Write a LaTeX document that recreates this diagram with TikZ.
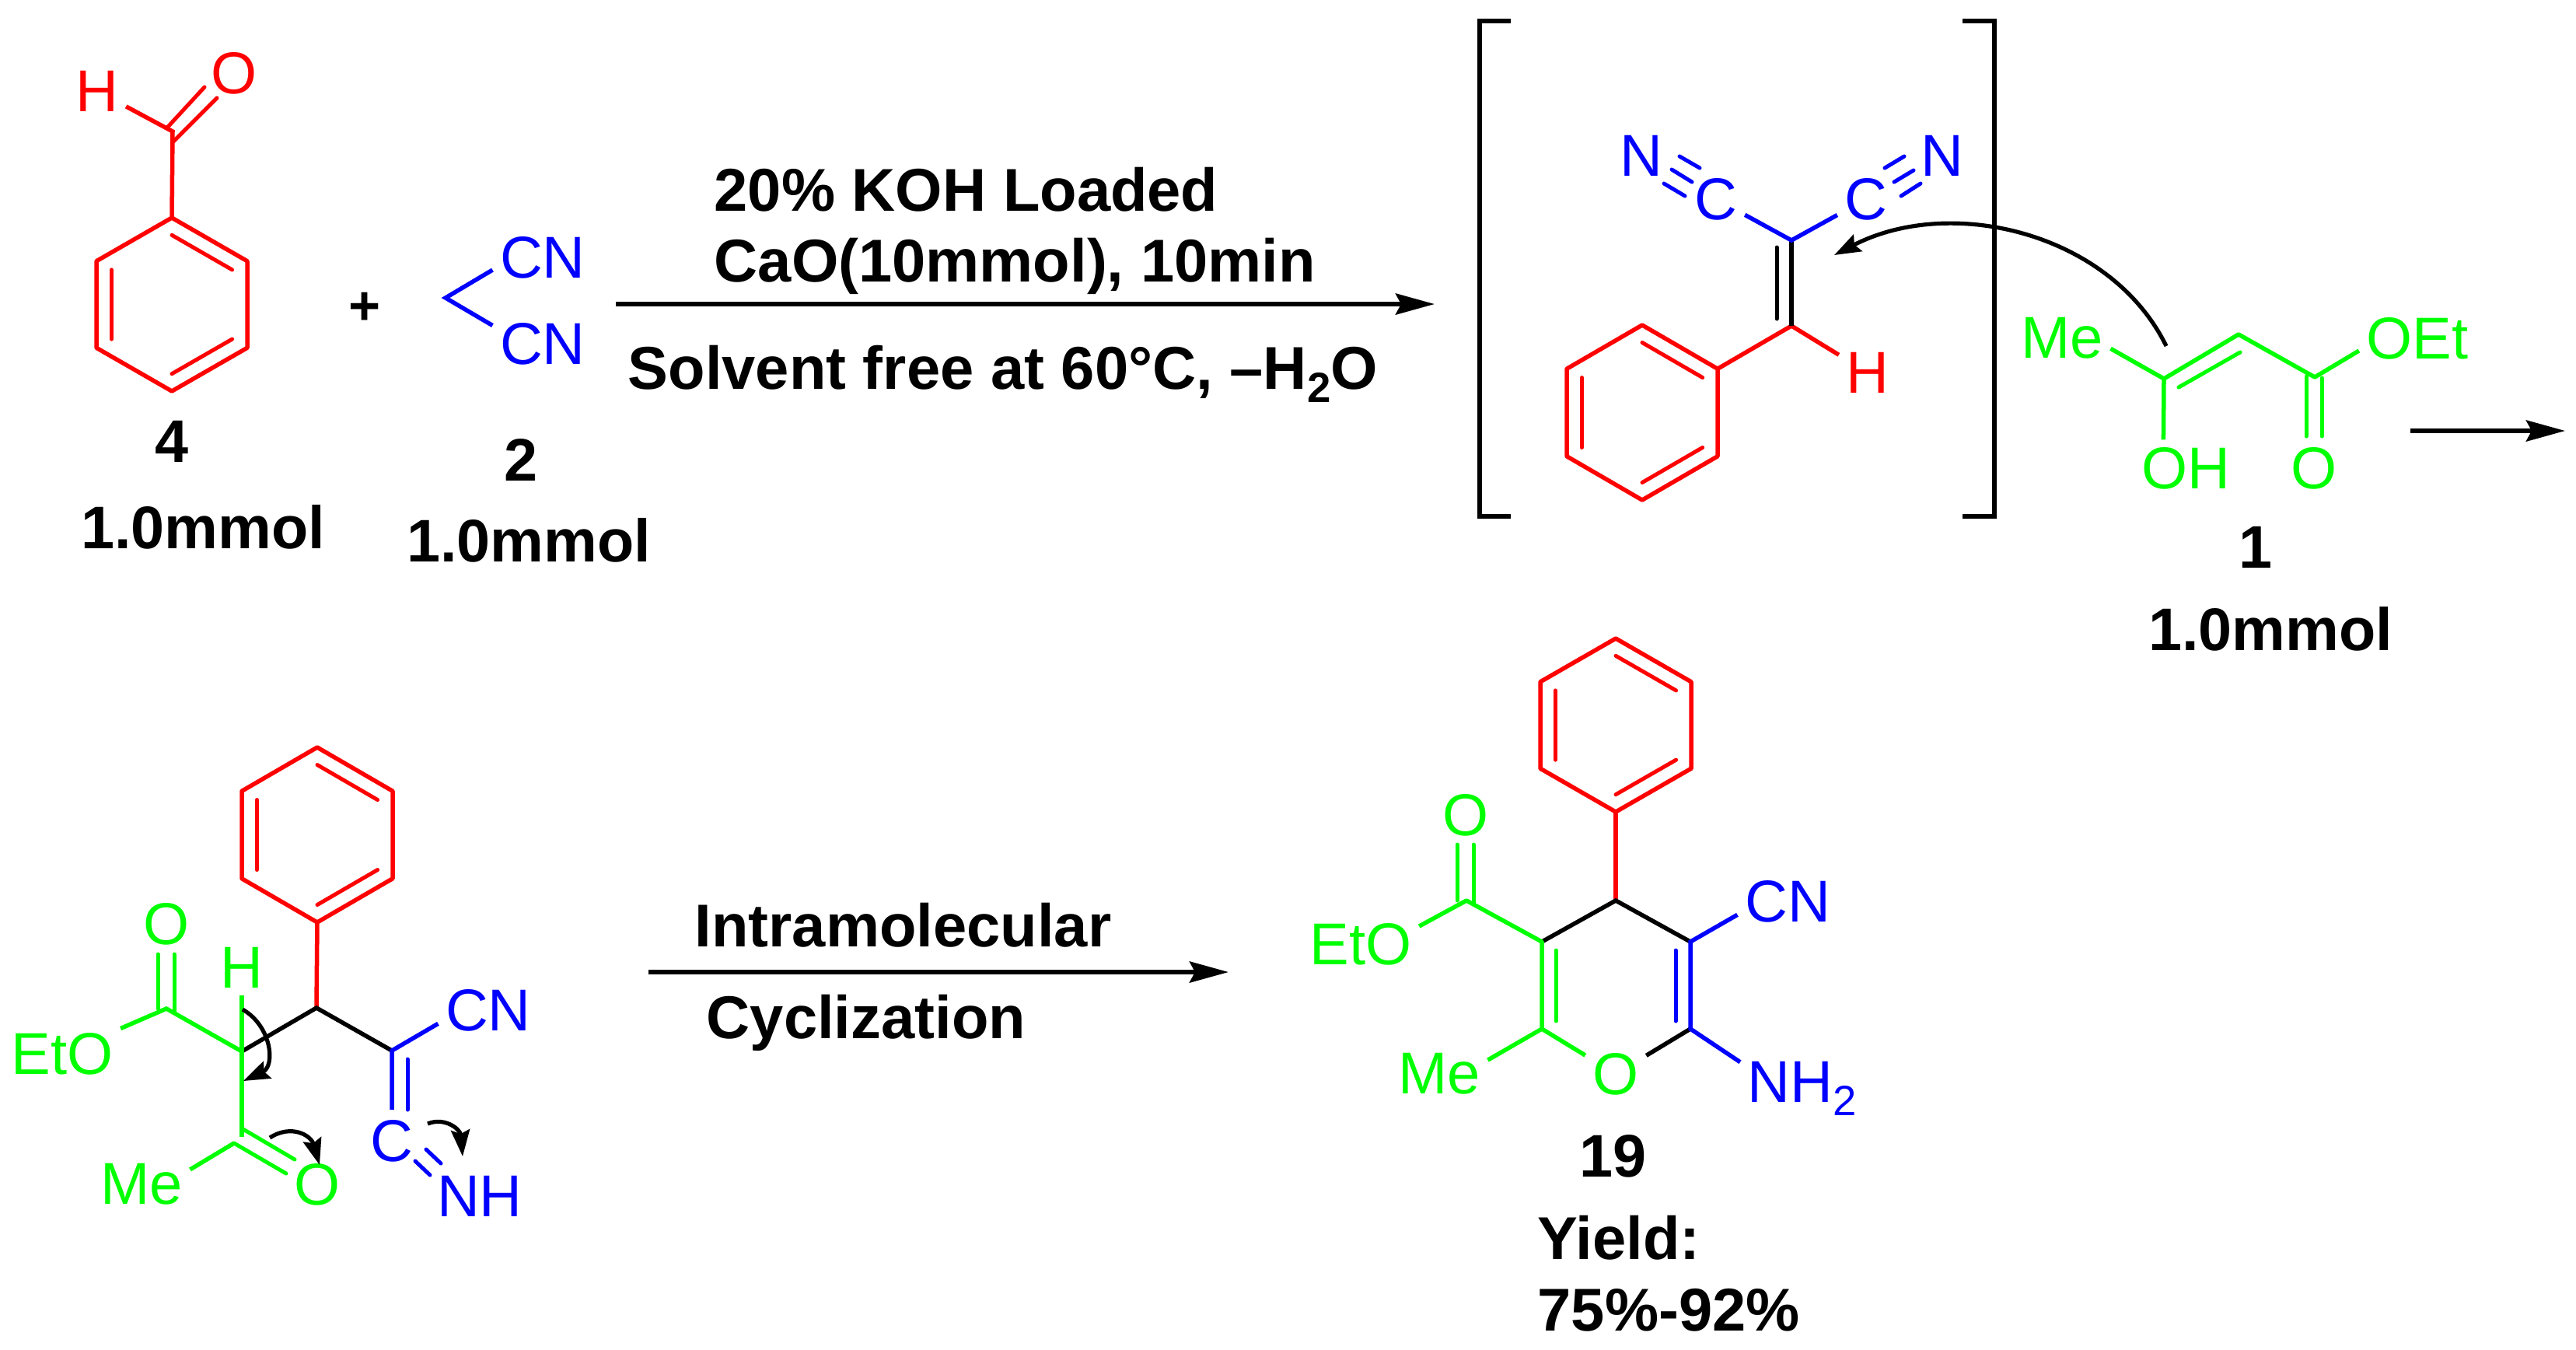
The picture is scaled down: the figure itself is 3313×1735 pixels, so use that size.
\documentclass[tikz,border=0pt]{standalone}
\usepackage{fontspec}
\setmainfont{Liberation Sans}
\usetikzlibrary{arrows.meta,calc}
\tikzset{
  bond/.style={line width=0.055cm},
  thinbond/.style={line width=0.05cm,line cap=round},
  rxnarrow/.style={line width=0.06cm,-{Stealth[length=0.5cm,width=0.27cm,inset=0.07cm]}},
  pusharrow/.style={line width=0.052cm,-{Stealth[length=0.34cm,width=0.24cm,inset=0.05cm]}},
  chem/.style={font=\fontsize{21.6}{25}\selectfont,inner sep=0.09cm},
  boldtxt/.style={font=\bfseries\fontsize{22}{25}\selectfont,inner sep=0pt,anchor=base},
  condtxt/.style={font=\bfseries\fontsize{22.1}{25}\selectfont,inner sep=0pt,anchor=base west},
}
\newcommand{\subtwo}{\raisebox{-0.23em}{\fontsize{15.5}{15.5}\selectfont 2}}
% Phenyl ring: name, centre x, centre y, half width, half height
\newcommand{\phring}[5]{
  \coordinate (#1c) at (#2,#3);
  \coordinate (#1a) at ({#2},{#3-#5});
  \coordinate (#1b) at ({#2+#4},{#3-#5/2});
  \coordinate (#1d) at ({#2+#4},{#3+#5/2});
  \coordinate (#1e) at ({#2},{#3+#5});
  \coordinate (#1f) at ({#2-#4},{#3+#5/2});
  \coordinate (#1g) at ({#2-#4},{#3-#5/2});
  \draw[bond,red,line join=round] (#1a) -- (#1b) -- (#1d) -- (#1e) -- (#1f) -- (#1g) -- cycle;
  \foreach \p/\q in {a/b,d/e,f/g}
    \draw[thinbond,red] ($(#1\p)!0.2!(#1c)$) -- ($(#1\q)!0.2!(#1c)$);
}
\begin{document}
\begin{tikzpicture}[x=0.01cm,y=-0.01cm]
  \useasboundingbox (0,0) rectangle (3313,1735);

  % Draw benzaldehyde 4
  \phring{ald}{221}{391.5}{97}{111.5}
  \coordinate (aldC) at (222,169);
  \coordinate (aldOa) at (216,163);
  \coordinate (aldOb) at (263,112);
  \coordinate (aldOc) at (223,182);
  \coordinate (aldOd) at (279,126);
  \node[chem,red] (aldH) at (125,117) {H};
  \node[chem,red] (aldO) at (301,94) {O};
  \draw[bond,red] (alda) -- (aldC) -- (aldH);
  \draw[thinbond,red] (aldOa) -- (aldOb);
  \draw[thinbond,red] (aldOc) -- (aldOd);
  \node[boldtxt] (numfour) at (221,594) {4};
  \node[boldtxt] (molfour) at (261,705) {1.0mmol};
  \node[font=\bfseries\fontsize{20}{25}\selectfont,inner sep=0pt] (plus) at (469,397) {+};

  % Draw malononitrile 2
  \coordinate (malC) at (573,383);
  \node[chem,blue] (malCNa) at (698,331) {CN};
  \node[chem,blue] (malCNb) at (698,442) {CN};
  \draw[bond,blue] (malCNa.194) -- (malC) -- (malCNb.160);
  \node[boldtxt] (numtwo) at (670,618) {2};
  \node[boldtxt] (moltwo) at (680,722) {1.0mmol};

  % Draw first arrow and conditions
  \coordinate (arrAs) at (792,391);
  \coordinate (arrAe) at (1845,391);
  \draw[rxnarrow] (arrAs) -- (arrAe);
  \node[condtxt] (condA) at (918,271) {20\% KOH Loaded};
  \node[condtxt] (condB) at (918,362) {CaO(10mmol), 10min};
  \node[condtxt] (condC) at (807,500) {Solvent free at 60°C, –H\subtwo O};

  % Draw brackets
  \coordinate (brLa) at (1943,27);
  \coordinate (brLb) at (1903,27);
  \coordinate (brLc) at (1903,664);
  \coordinate (brLd) at (1943,664);
  \coordinate (brRa) at (2524,27);
  \coordinate (brRb) at (2565,27);
  \coordinate (brRc) at (2565,664);
  \coordinate (brRd) at (2524,664);
  \draw[bond] (brLa) -- (brLb) -- (brLc) -- (brLd);
  \draw[bond] (brRa) -- (brRb) -- (brRc) -- (brRd);

  % Draw benzylidene malononitrile
  \phring{bzy}{2112}{530.5}{97}{112.5}
  \coordinate (bzyCa) at (2304,309);
  \coordinate (bzyCb) at (2304,419);
  \coordinate (bzyDa) at (2285,318);
  \coordinate (bzyDb) at (2285,410);
  \node[chem,red] (bzyH) at (2402,479) {H};
  \node[chem,blue] (bzyCl) at (2207,256) {C};
  \node[chem,blue] (bzyCr) at (2400,256) {C};
  \node[chem,blue] (bzyNl) at (2111,200) {N};
  \node[chem,blue] (bzyNr) at (2498,200) {N};
  \draw[bond,red] (bzyb) -- (bzyCb) -- (bzyH);
  \draw[bond] (bzyCa) -- (bzyCb);
  \draw[thinbond] (bzyDa) -- (bzyDb);
  \draw[bond,blue] (bzyCl) -- (bzyCa) -- (bzyCr);
  \coordinate (tlAa) at (2160,201);
  \coordinate (tlAb) at (2186,216);
  \coordinate (tlBa) at (2150,218);
  \coordinate (tlBb) at (2176,234);
  \coordinate (tlCa) at (2140,236);
  \coordinate (tlCb) at (2167,252);
  \coordinate (trAa) at (2424,216);
  \coordinate (trAb) at (2449,201);
  \coordinate (trBa) at (2436,234);
  \coordinate (trBb) at (2461,219);
  \coordinate (trCa) at (2445,252);
  \coordinate (trCb) at (2470,236);
  \foreach \p in {tlA,tlB,tlC,trA,trB,trC}
    \draw[thinbond,blue] (\p a) -- (\p b);

  % Draw ethyl acetoacetate 1
  \coordinate (keC) at (2783,487);
  \coordinate (keD) at (2879,430);
  \coordinate (keE) at (2977,485);
  \coordinate (keFa) at (2802,498);
  \coordinate (keFb) at (2881,453);
  \coordinate (keGa) at (2966,484);
  \coordinate (keGb) at (2966,561);
  \coordinate (keHa) at (2986,486);
  \coordinate (keHb) at (2986,561);
  \node[chem,green] (keMe) at (2652,435) {Me};
  \node[chem,green] (keOEt) at (3109,435) {OEt};
  \node[chem,green] (keOH) at (2811,602) {OH};
  \node[chem,green] (keO) at (2976,602) {O};
  \draw[bond,green,line join=round] (keMe.348) -- (keC) -- (keD) -- (keE) -- (keOEt.192);
  \draw[bond,green] (keC) -- (keOH.128);
  \draw[thinbond,green] (keFa) -- (keFb);
  \draw[thinbond,green] (keGa) -- (keGb);
  \draw[thinbond,green] (keHa) -- (keHb);
  \node[boldtxt] (numone) at (2901,730) {1};
  \node[boldtxt] (molone) at (2920,836) {1.0mmol};

  % Draw attack arrow and second arrow
  \coordinate (atkS) at (2786,445);
  \coordinate (atkE) at (2359,328);
  \draw[pusharrow] (atkS) .. controls (2715,300) and (2510,250) .. (atkE);
  \coordinate (arrBs) at (3100,554);
  \coordinate (arrBe) at (3299,554);
  \draw[rxnarrow] (arrBs) -- (arrBe);

  % Draw intermediate
  \phring{imd}{408}{1073.5}{97}{112.5}
  \coordinate (imdCh) at (407,1296);
  \coordinate (imdCa) at (311,1352);
  \coordinate (imdCb) at (504,1351);
  \coordinate (imdEs) at (214,1297);
  \coordinate (imdKe) at (311,1462);
  \coordinate (imdEa) at (203,1227);
  \coordinate (imdEb) at (203,1297);
  \coordinate (imdEc) at (224,1227);
  \coordinate (imdEd) at (224,1302);
  \coordinate (imdKa) at (311,1451);
  \coordinate (imdKb) at (379,1491);
  \coordinate (imdKc) at (301,1470);
  \coordinate (imdKd) at (368,1509);
  \coordinate (imdNa) at (504,1427);
  \coordinate (imdNb) at (524,1362);
  \coordinate (imdNc) at (524,1427);
  \coordinate (imdTa) at (548,1478);
  \coordinate (imdTb) at (567,1496);
  \coordinate (imdTc) at (534,1493);
  \coordinate (imdTd) at (553,1511);
  \node[chem,green] (imdH) at (311,1244) {H};
  \node[chem,green] (imdO) at (214,1188) {O};
  \node[chem,green] (imdEtO) at (80,1355) {EtO};
  \node[chem,green] (imdMe) at (182,1523) {Me};
  \node[chem,green] (imdOk) at (408,1523) {O};
  \node[chem,blue] (imdCN) at (628,1299) {CN};
  \node[chem,blue] (imdC) at (504,1467) {C};
  \node[chem,blue] (imdNH) at (617,1538) {NH};
  \draw[bond,red] (imde) -- (imdCh);
  \draw[bond] (imdCa) -- (imdCh) -- (imdCb);
  \draw[bond,green] (imdH) -- (imdKe);
  \draw[bond,green] (imdEtO) -- (imdEs) -- (imdCa);
  \draw[thinbond,green] (imdEa) -- (imdEb);
  \draw[thinbond,green] (imdEc) -- (imdEd);
  \draw[bond,green] (imdMe.17) -- (imdKc);
  \draw[thinbond,green] (imdKa) -- (imdKb);
  \draw[thinbond,green] (imdKc) -- (imdKd);
  \draw[bond,blue] (imdCN.195) -- (imdCb) -- (imdNa);
  \draw[thinbond,blue] (imdNb) -- (imdNc);
  \draw[thinbond,blue] (imdTa) -- (imdTb);
  \draw[thinbond,blue] (imdTc) -- (imdTd);

  % Draw electron pushing arrows
  \coordinate (pshAs) at (312,1298);
  \coordinate (pshAe) at (313,1390);
  \coordinate (pshBs) at (347,1463);
  \coordinate (pshBe) at (411,1498);
  \coordinate (pshCs) at (550,1445);
  \coordinate (pshCe) at (595,1487);
  \draw[pusharrow] (pshAs) .. controls (350,1320) and (354,1371) .. (pshAe);
  \draw[pusharrow] (pshBs) .. controls (375,1445) and (400,1460) .. (pshBe);
  \draw[pusharrow] (pshCs) .. controls (572,1436) and (592,1452) .. (pshCe);

  % Draw cyclization arrow
  \coordinate (arrCs) at (834,1250);
  \coordinate (arrCe) at (1580,1250);
  \draw[rxnarrow] (arrCs) -- (arrCe);
  \node[condtxt] (condD) at (893,1217) {Intramolecular};
  \node[condtxt] (condE) at (908,1335) {Cyclization};

  % Draw product 19
  \phring{pro}{2078}{932.5}{97}{111.5}
  \coordinate (proCf) at (2078,1158);
  \coordinate (proCe) at (2174,1211);
  \coordinate (proCd) at (2174,1323);
  \coordinate (proCc) at (1983,1323);
  \coordinate (proCb) at (1983,1211);
  \coordinate (proEs) at (1886,1158);
  \coordinate (proIa) at (2155,1222);
  \coordinate (proIb) at (2155,1313);
  \coordinate (proIc) at (2001,1222);
  \coordinate (proId) at (2001,1313);
  \coordinate (proDa) at (1874,1086);
  \coordinate (proDb) at (1874,1158);
  \coordinate (proDc) at (1895,1086);
  \coordinate (proDd) at (1895,1163);
  \node[chem,green] (proO) at (2078,1381) {O};
  \node[chem,green] (proOe) at (1885,1048) {O};
  \node[chem,green] (proEtO) at (1750,1214) {EtO};
  \node[chem,green] (proMe) at (1851,1381) {Me};
  \node[chem,blue] (proCN) at (2299,1159) {CN};
  \node[chem,blue,anchor=base west] (proNH) at (2238,1417) {NH\subtwo};
  \draw[bond,red] (proe) -- (proCf);
  \draw[bond] (proCb) -- (proCf) -- (proCe);
  \draw[bond] (proCd) -- (proO);
  \draw[bond,blue] (proCN.195) -- (proCe) -- (proCd) -- (proNH.157);
  \draw[thinbond,blue] (proIa) -- (proIb);
  \draw[bond,green,line join=round] (proEtO.17) -- (proEs) -- (proCb) -- (proCc) -- (proO);
  \draw[bond,green] (proCc) -- (proMe.16);
  \draw[thinbond,green] (proIc) -- (proId);
  \draw[thinbond,green] (proDa) -- (proDb);
  \draw[thinbond,green] (proDc) -- (proDd);
  \node[boldtxt] (numpro) at (2074,1513) {19};
  \node[condtxt] (yieldA) at (1977,1619) {Yield:};
  \node[condtxt] (yieldB) at (1977,1711) {75\%-92\%};
\end{tikzpicture}
\end{document}
